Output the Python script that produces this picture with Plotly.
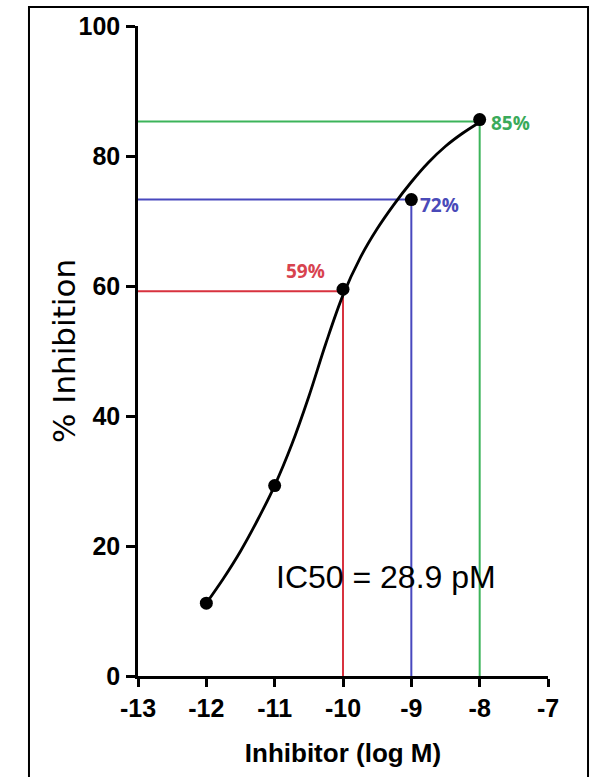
import plotly.graph_objects as go

# Data points
log_conc = [-12, -11, -10, -9, -8]
inhibition = [11.2, 29.3, 59.5, 73.3, 85.6]

# Fitted curve
curve_x = [-12, -11.75, -11.5, -11.25, -11, -10.75, -10.5, -10.25, -10,
           -9.75, -9.5, -9.25, -9, -8.75, -8.5, -8.25, -8]
curve_y = [11.2, 15.0, 19.2, 24.0, 29.3, 35.6, 43.0, 51.2, 58.6,
           64.3, 68.8, 72.6, 76.0, 79.0, 81.5, 83.5, 85.2]

# Reference lines
ref_x = [-10, -9, -8]
ref_y = [59.2, 73.3, 85.3]
ref_colors = ["#d8323f", "#4848be", "#3cb45a"]
ref_labels = ["59%", "72%", "85%"]
label_x = [-10.556, -8.595, -7.556]
label_y = [62.3, 72.5, 85.1]
label_colors = ["#d8434f", "#4a4ab8", "#3aaa5a"]

x_ticks = [-13, -12, -11, -10, -9, -8, -7]
y_ticks = [0, 20, 40, 60, 80, 100]

fig = go.Figure()

for rx, ry, c in zip(ref_x, ref_y, ref_colors):
    fig.add_trace(go.Scatter(x=[-13, rx, rx], y=[ry, ry, 0], mode="lines",
                             line=dict(color=c, width=2), hoverinfo="skip",
                             showlegend=False, cliponaxis=False))

fig.add_trace(go.Scatter(x=curve_x, y=curve_y, mode="lines",
                         line=dict(color="black", width=2.8, shape="spline", smoothing=1),
                         showlegend=False))
fig.add_trace(go.Scatter(x=log_conc, y=inhibition, mode="markers",
                         marker=dict(color="black", size=13), showlegend=False))

for t, lx, ly, c in zip(ref_labels, label_x, label_y, label_colors):
    fig.add_annotation(x=lx, y=ly, text=t, showarrow=False,
                       font=dict(family="Open Sans", size=19, color=c, weight="bold"))

fig.add_annotation(x=-9.37, y=15.2, text="IC50 = 28.9 pM", showarrow=False,
                   font=dict(family="Liberation Sans", size=32, color="black"))

# Y axis title
fig.add_annotation(xref="paper", yref="paper", x=-0.1805, y=0.5, text="% Inhibition",
                   textangle=-90, showarrow=False, xanchor="center", yanchor="middle",
                   font=dict(family="DejaVu Sans", size=31, color="black"))

# Outer frame
fig.add_shape(type="rect", xref="paper", yref="paper",
              x0=-0.2659, x1=1.0976, y0=-0.17, y1=1.0291,
              line=dict(color="black", width=2))

tickfont = dict(family="Liberation Sans", size=25, color="black", weight="bold")

fig.update_layout(
    width=590, height=777,
    margin=dict(l=138, r=42, t=24, b=101),
    paper_bgcolor="white", plot_bgcolor="white",
    xaxis=dict(range=[-13, -7], tickvals=x_ticks, ticktext=[str(v) for v in x_ticks],
               showgrid=False, zeroline=False, showline=True, linecolor="black", linewidth=2.5,
               ticks="outside", ticklen=8, tickwidth=2.5, tickcolor="black",
               tickfont=tickfont, ticklabelstandoff=0,
               title=dict(text="Inhibitor (log M)", standoff=24,
                          font=dict(family="Liberation Sans", size=26,
                                    color="black", weight="bold"))),
    yaxis=dict(range=[0, 100], tickvals=y_ticks,
               showgrid=False, zeroline=False, showline=True, linecolor="black", linewidth=2.5,
               ticks="outside", ticklen=9, tickwidth=2.5, tickcolor="black",
               tickfont=tickfont, ticklabelstandoff=1),
)

fig.write_html("out.html")
